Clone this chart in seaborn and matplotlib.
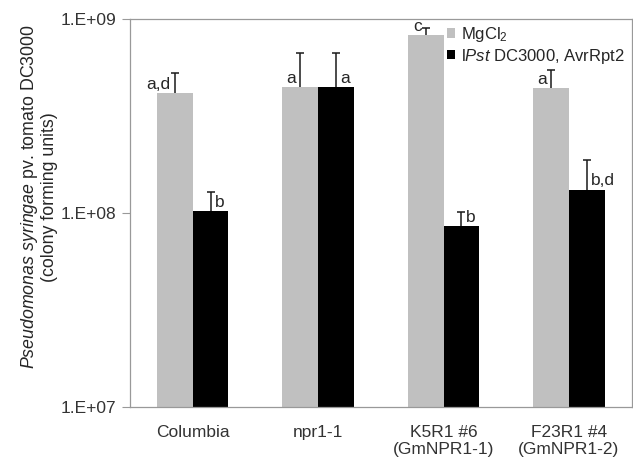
import numpy as np
import pandas as pd
import matplotlib
matplotlib.use("Agg")
import matplotlib.pyplot as plt
import seaborn as sns
from matplotlib.ticker import FixedLocator, NullLocator

# Data
categories = ["Columbia", "npr1-1", "K5R1 #6\n(GmNPR1-1)", "F23R1 #4\n(GmNPR1-2)"]
treatments = ["MgCl$_2$", "l$\\it{Pst}$ DC3000, AvrRpt2"]
mgcl2_mean = [4.16e8, 4.45e8, 8.28e8, 4.40e8]
mgcl2_upper = [5.28e8, 6.66e8, 8.95e8, 5.46e8]
pst_mean = [1.02e8, 4.45e8, 8.57e7, 1.32e8]
pst_upper = [1.29e8, 6.70e8, 1.01e8, 1.87e8]
mgcl2_letters = ["a,d", "a", "c", "a"]
pst_letters = ["b", "a", "b", "b,d"]
ytick_values = [1e7, 1e8, 1e9]
ytick_labels = ["1.E+07", "1.E+08", "1.E+09"]

sns.set_style("white")
plt.rcParams.update(
    {
        "font.family": ["Liberation Sans", "DejaVu Sans"],
        "mathtext.fontset": "custom",
        "mathtext.rm": "Liberation Sans",
        "mathtext.it": "Liberation Sans:italic",
        "mathtext.bf": "Liberation Sans:bold",
    }
)

df = pd.DataFrame(
    {
        "line": categories * 2,
        "treatment": [treatments[0]] * 4 + [treatments[1]] * 4,
        "cfu": mgcl2_mean + pst_mean,
    }
)

fig = plt.figure(figsize=(6.33, 4.61), dpi=100)
ax = fig.add_axes([0.2054, 0.1171, 0.7925, 0.8417])

sns.barplot(
    data=df,
    x="line",
    y="cfu",
    hue="treatment",
    order=categories,
    hue_order=treatments,
    palette=["#c0c0c0", "#000000"],
    width=0.57,
    errorbar=None,
    saturation=1,
    linewidth=0,
    ax=ax,
)
ax.set_yscale("log")
ax.set_ylim(1e7, 1e9)
ax.set_xlim(-0.5, len(categories) - 0.5)

# Upper-only error bars and significance letters
uppers = [mgcl2_upper, pst_upper]
letters = [mgcl2_letters, pst_letters]
bar_containers = list(ax.containers)
for k, container in enumerate(bar_containers):
    for i, bar in enumerate(container.patches):
        xc = bar.get_x() + bar.get_width() / 2
        top = bar.get_height()
        eb = ax.errorbar(
            xc,
            top,
            yerr=[[0], [uppers[k][i] - top]],
            fmt="none",
            ecolor="#1a1a1a",
            elinewidth=1.1,
            capsize=3,
            capthick=1.1,
        )
        # drop the cap at the bar top, keep only the upper one
        eb[1][0].set_visible(False)
        if k == 0:
            ax.annotate(
                letters[k][i], (xc, top), xytext=(-3, 1), textcoords="offset points",
                ha="right", va="bottom", fontsize=12.5,
            )
        else:
            ax.annotate(
                letters[k][i], (xc, top), xytext=(3, 1), textcoords="offset points",
                ha="left", va="bottom", fontsize=12.5,
            )

ax.yaxis.set_major_locator(FixedLocator(ytick_values))
ax.set_yticklabels(ytick_labels)
ax.yaxis.set_minor_locator(NullLocator())
ax.xaxis.set_minor_locator(FixedLocator(np.arange(len(categories) + 1) - 0.5))
ax.tick_params(axis="x", which="major", length=0, pad=13, labelsize=12.5, colors="#333333")
ax.tick_params(axis="x", which="minor", length=6, width=0.8, color="#999999", direction="out")
ax.tick_params(axis="y", which="major", length=6, width=0.8, color="#999999",
               direction="out", labelsize=12.5, labelcolor="#333333", left=True, pad=4)

for spine in ax.spines.values():
    spine.set_color("#999999")
    spine.set_linewidth(0.9)

ax.set_xlabel("")
ax.set_ylabel(
    "$\\it{Pseudomonas\\ syringae}$ pv. tomato DC3000\n(colony forming units)",
    fontsize=12.8, linespacing=1.1,
)
ax.yaxis.set_label_coords(-0.143, 0.541)

ax.legend(
    loc="upper left",
    bbox_to_anchor=(0.611, 1.01),
    frameon=False,
    fontsize=12,
    handlelength=0.5,
    handleheight=0.5,
    handletextpad=0.35,
    labelspacing=0.15,
    borderaxespad=0.2,
)

fig.savefig("out.png", dpi=100)
